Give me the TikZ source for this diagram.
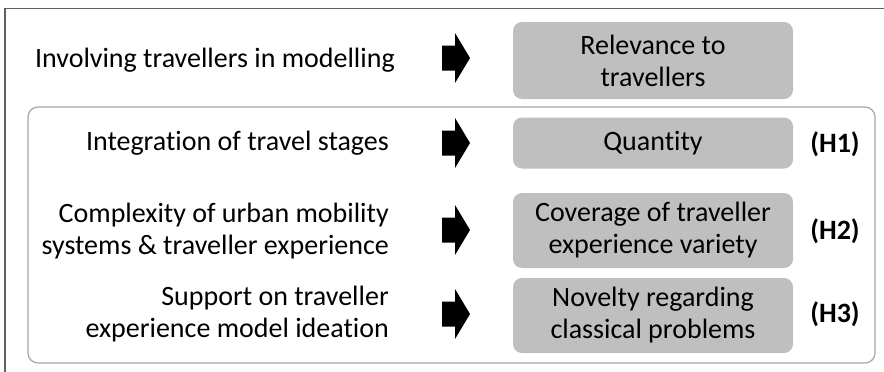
\documentclass[tikz,border=0pt]{standalone}
\usepackage{fontspec}
\setmainfont{Carlito}[Ligatures=NoCommon]
\definecolor{boxgray}{HTML}{BFBFBF}
\definecolor{framegray}{HTML}{5F5F5F}
\definecolor{innergray}{HTML}{A6A6A6}
\tikzset{
  gbox/.style={fill=boxgray, rounded corners=9pt, minimum width=280pt, align=center, font=\fontsize{28}{32}\selectfont, inner sep=0pt},
  ltext/.style={anchor=east, align=right, font=\fontsize{28}{32}\selectfont, inner sep=0pt},
  blkarrow/.pic={\fill[black] (-14,-12.5) -- (-1,-12.5) -- (-1,-25) -- (14,0) -- (-1,25) -- (-1,12.5) -- (-14,12.5) -- cycle;},
  hlab/.style={font=\fontsize{28}{32}\selectfont\bfseries, inner sep=0pt}
}
\begin{document}
\begin{tikzpicture}[x=1pt,y=-1pt]
\useasboundingbox (0,0) rectangle (884,372);
\draw[framegray, line width=1.5pt] (5,372) -- (5,8.5) -- (884,8.5);
\draw[innergray, line width=1.2pt, rounded corners=10pt] (28,107) rectangle (875,363);

\node[gbox, minimum height=77pt] (b0) at (653,60.5) {Relevance to\\travellers};
\node[gbox, minimum height=51pt] (b1) at (653,143) {Quantity};
\node[gbox, minimum height=75pt] (b2) at (653,230.5) {Coverage of traveller\\experience variety};
\node[gbox, minimum height=75pt] (b3) at (653,315.5) {Novelty regarding\\classical problems};

\node[ltext] (t0) at (395,60) {Involving travellers in modelling};
\node[ltext] (t1) at (389,143) {Integration of travel stages};
\node[ltext] (t2) at (389,231) {Complexity of urban mobility\\systems \& traveller experience};
\node[ltext] (t3) at (389,314) {Support on traveller\\experience model ideation};

\coordinate (a0) at (456,58);
\coordinate (a1) at (456,143);
\coordinate (a2) at (456,230);
\coordinate (a3) at (456,314);
\foreach \a in {a0,a1,a2,a3} \pic at (\a) {blkarrow};

\node[hlab] (h1) at (835,144) {(H1)};
\node[hlab] (h2) at (835,231) {(H2)};
\node[hlab] (h3) at (835,314) {(H3)};
\end{tikzpicture}
\end{document}
